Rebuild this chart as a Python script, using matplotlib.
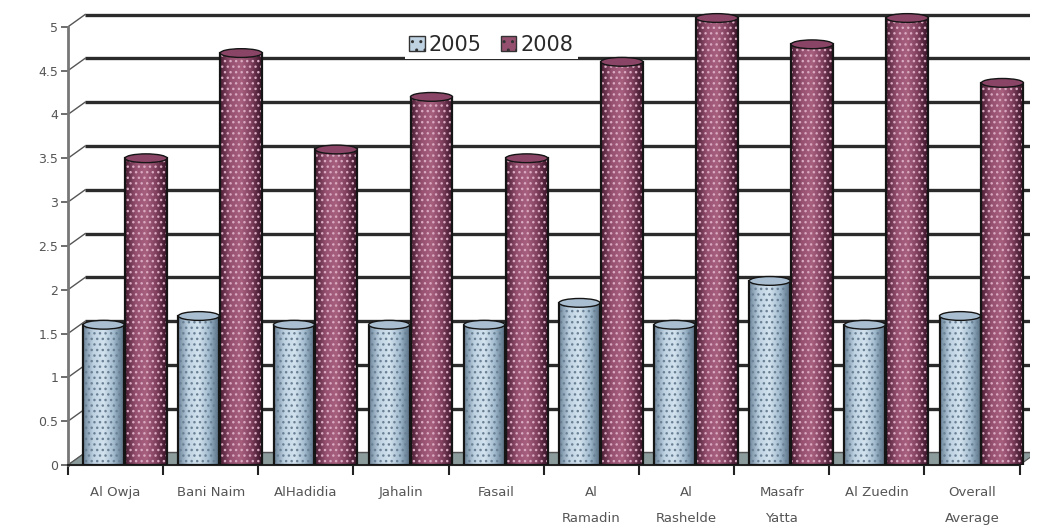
import numpy as np
import matplotlib.pyplot as plt
from matplotlib.patches import Rectangle, Ellipse, Patch, Polygon
from matplotlib.colors import LinearSegmentedColormap

categories = ['Al Owja', 'Bani Naim', 'AlHadidia', 'Jahalin', 'Fasail',
              'Al\nRamadin', 'Al\nRashelde', 'Masafr\nYatta', 'Al Zuedin',
              'Overall\nAverage']
values_2005 = [1.5, 1.6, 1.5, 1.5, 1.5, 1.75, 1.5, 2.0, 1.5, 1.6]
values_2008 = [3.4, 4.6, 3.5, 4.1, 3.4, 4.5, 5.0, 4.7, 5.0, 4.26]
series_names = ['2005', '2008']
y_ticks = [0, 0.5, 1, 1.5, 2, 2.5, 3, 3.5, 4, 4.5, 5]

# depth offset of the fake 3D back wall
dx, dy = 0.18, 0.14
# bar tops are drawn half way into the depth
top_lift = 0.1

fig = plt.figure(figsize=(10.48, 5.32), dpi=100)
ax = fig.add_axes([68 / 1048, (532 - 465) / 532, 962 / 1048, 454 / 532])

# back-wall gridlines with slanted connectors
for t in y_ticks:
    ax.plot([-0.5 + dx, 9.61], [t + dy, t + dy], color='#2b2b2b', lw=2.4, zorder=1,
            solid_capstyle='butt')
    ax.plot([-0.5, -0.5 + dx], [t, t + dy], color='#555555', lw=1.0, zorder=1)

# floor
floor = Polygon([[-0.5, 0], [9.5, 0], [9.5 + dx, dy], [-0.5 + dx, dy]],
                closed=True, facecolor='#8c9c9c', edgecolor='#555555', lw=0.8, zorder=1.5)
ax.add_patch(floor)

blue_cmap = LinearSegmentedColormap.from_list(
    'b', ['#6f879c', '#bed2e2', '#d3e2ee', '#a3bccf', '#5a7186'])
pink_cmap = LinearSegmentedColormap.from_list(
    'p', ['#4a1e34', '#96506f', '#a8607f', '#80405e', '#3a1428'])
grad = np.linspace(0, 1, 64).reshape(1, -1)


def cylinder(x, v, w, cmap, top_color, dot_color):
    h = v + top_lift
    rect = Rectangle((x - w / 2, 0), w, h, facecolor='none', edgecolor='none', zorder=3)
    ax.add_patch(rect)
    im = ax.imshow(grad, cmap=cmap, aspect='auto', zorder=3,
                   extent=[x - w / 2, x + w / 2, 0, h], interpolation='bilinear')
    im.set_clip_path(rect)
    ax.add_patch(Rectangle((x - w / 2, 0), w, h, facecolor='none', edgecolor=dot_color,
                           hatch='...', lw=0, zorder=3.2))
    ax.add_patch(Rectangle((x - w / 2, 0), w, h, facecolor='none', edgecolor='#151515',
                           lw=1.6, zorder=3.4))
    ax.add_patch(Ellipse((x, h), w, 0.1, facecolor=top_color, edgecolor='#151515',
                         lw=1.0, zorder=3.6))


xs = np.arange(len(categories))
w = 0.43
for i in xs:
    cylinder(i - 0.125, values_2005[i], w, blue_cmap, '#a9bfd1', '#6a8094')
    cylinder(i + 0.32, values_2008[i], w + 0.01, pink_cmap, '#8a4566', '#d9a9c1')

ax.set_xlim(-0.5, 9.61)
ax.set_ylim(0, 5.18)

# axes styling
for s in ['top', 'right']:
    ax.spines[s].set_visible(False)
ax.spines['left'].set_bounds(0, 5)
ax.spines['left'].set_color('#777777')
ax.spines['left'].set_linewidth(2)
ax.spines['bottom'].set_bounds(-0.5, 9.5)
ax.spines['bottom'].set_color('#222222')
ax.spines['bottom'].set_linewidth(1.5)

ax.set_yticks(y_ticks)
ax.set_yticklabels([('%g' % t) for t in y_ticks])
ax.tick_params(axis='y', length=5, width=1.2, color='#555555', labelsize=9,
               labelcolor='#555555', pad=2)
ax.set_xticks(xs)
ax.set_xticklabels(categories, linespacing=2.3, va='top')
ax.tick_params(axis='x', length=0, labelsize=9.5, labelcolor='#555555', pad=15)
ax.set_xticks(np.arange(-0.5, 10, 1), minor=True)
ax.tick_params(axis='x', which='minor', length=7, width=1.5, color='#222222')

handles = [Patch(facecolor='#bed2e2', edgecolor='#333333', hatch='..'),
           Patch(facecolor='#96506f', edgecolor='#333333', hatch='..')]
leg = ax.legend(handles, series_names, loc='center', bbox_to_anchor=(0.44, 0.925),
                ncol=2, fontsize=15, frameon=True, handlelength=0.75, handleheight=0.75,
                handletextpad=0.2, columnspacing=0.9, borderpad=0.2, fancybox=False)
leg.get_frame().set_facecolor('white')
leg.get_frame().set_edgecolor('none')
leg.get_frame().set_alpha(1)
leg.set_zorder(5)
for t in leg.get_texts():
    t.set_color('#2a2a2a')

plt.savefig('out.png', dpi=100)
plt.close()
